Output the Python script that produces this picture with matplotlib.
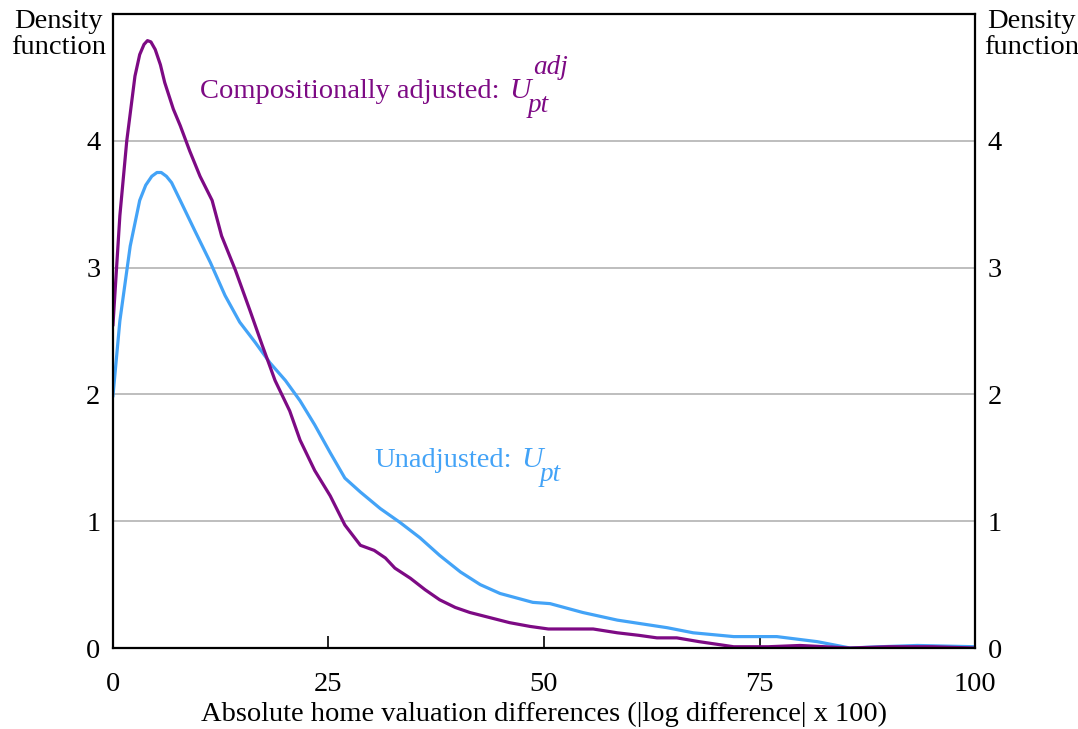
import numpy as np
import matplotlib.pyplot as plt

plt.rcParams["font.family"] = ["Liberation Serif", "DejaVu Serif"]

# Compositionally adjusted density
adj_x = [0, 0.8, 1.6, 2.55, 3.1, 3.6, 4.0, 4.4, 4.9, 5.5, 6.0, 7.0, 7.8,
         8.9, 10.1, 11.5, 12.6, 14.2, 15.9, 17.3, 18.8, 20.5, 21.7, 23.4,
         25.2, 26.9, 28.7, 30.3, 31.6, 32.7, 34.5, 36.2, 37.9, 39.7, 41.4,
         43.7, 46.0, 48.4, 50.5, 53.0, 55.7, 58.5, 61.0, 63.1, 65.4, 68.0,
         72.0, 76.0, 79.7, 85.5, 90.0, 95.0, 100]
adj_y = [2.55, 3.41, 4.0, 4.51, 4.68, 4.76, 4.79, 4.78, 4.72, 4.60, 4.46,
         4.25, 4.12, 3.92, 3.72, 3.53, 3.25, 2.98, 2.66, 2.39, 2.11, 1.87,
         1.64, 1.40, 1.20, 0.97, 0.81, 0.77, 0.71, 0.63, 0.55, 0.46, 0.38,
         0.32, 0.28, 0.24, 0.20, 0.17, 0.15, 0.15, 0.15, 0.12, 0.10, 0.08,
         0.08, 0.05, 0.01, 0.01, 0.02, 0.0, 0.01, 0.01, 0.0]

# Unadjusted density
raw_x = [0, 0.8, 2.0, 3.1, 3.8, 4.5, 5.1, 5.6, 6.2, 6.8, 7.8, 9.5, 11.3,
         13.0, 14.7, 16.5, 18.2, 20.0, 21.7, 23.4, 25.2, 26.9, 28.7, 31.0,
         33.3, 35.6, 37.9, 40.3, 42.6, 44.9, 48.7, 50.7, 54.5, 58.5, 64.3,
         67.3, 72.0, 77.0, 81.7, 85.5, 89.0, 93.3, 100]
raw_y = [1.99, 2.58, 3.17, 3.53, 3.65, 3.72, 3.75, 3.75, 3.72, 3.67, 3.53,
         3.29, 3.04, 2.78, 2.57, 2.41, 2.25, 2.11, 1.95, 1.76, 1.54, 1.34,
         1.23, 1.10, 0.99, 0.87, 0.73, 0.60, 0.50, 0.43, 0.36, 0.35, 0.28,
         0.22, 0.16, 0.12, 0.09, 0.09, 0.05, 0.0, 0.01, 0.02, 0.01]

x_ticks = [0, 25, 50, 75, 100]
y_ticks = [0, 1, 2, 3, 4]

purple = "#7D0A84"
blue = "#43A3F7"
fs = 20.5

fig = plt.figure(figsize=(10.78, 7.29), dpi=100)
ax = fig.add_axes([0.1048, 0.1111, 0.7997, 0.8697])

ax.plot(raw_x, raw_y, color=blue, lw=2.3, solid_joinstyle="round")
ax.plot(adj_x, adj_y, color=purple, lw=2.3, solid_joinstyle="round")

ax.set_xlim(0, 100)
ax.set_ylim(0, 5)
ax.set_xticks(x_ticks)
ax.set_yticks(y_ticks)
ax.yaxis.grid(True, color="#b3b3b3", lw=1.2)
ax.set_axisbelow(True)
ax.tick_params(axis="x", direction="in", length=9, width=1.2, pad=17,
               labelsize=fs)
ax.tick_params(axis="y", length=0, pad=9, labelsize=fs,
               labelleft=True, labelright=True)
for s in ax.spines.values():
    s.set_linewidth(1.6)

ax.set_xlabel("Absolute home valuation differences (|log difference| x 100)",
              fontsize=fs, labelpad=4)

fig.text(0.054, 0.987, "Density\nfunction", ha="center", va="top",
         fontsize=fs, linespacing=1.02)
fig.text(0.957, 0.987, "Density\nfunction", ha="center", va="top",
         fontsize=fs, linespacing=1.02)


def label_with_scripts(x, y, text, sub, sup, color):
    # main text, then italic U with a separate sub/superscript
    t = ax.text(x, y, text, color=color, fontsize=fs, va="baseline")
    fig.canvas.draw()
    r = fig.canvas.get_renderer()
    bb = t.get_window_extent(r)
    inv = ax.transData.inverted()
    x_end = inv.transform((bb.x1, 0))[0]
    u = ax.text(x_end + 1.1, y, "U", color=color, fontsize=fs + 1,
                style="italic", va="baseline")
    ub = u.get_window_extent(r)
    ux = inv.transform((ub.x1, 0))[0]
    ax.annotate(sub, (ux, y), xytext=(-2, -10), textcoords="offset points",
                color=color, fontsize=fs - 1, style="italic", va="baseline")
    if sup:
        ax.annotate(sup, (ux, y), xytext=(2, 17), textcoords="offset points",
                    color=color, fontsize=fs - 1, style="italic",
                    va="baseline")


label_with_scripts(10.1, 4.34, "Compositionally adjusted:", "pt", "adj",
                   purple)
label_with_scripts(30.3, 1.425, "Unadjusted:", "pt", None, blue)

fig.savefig("out.png", dpi=100)
